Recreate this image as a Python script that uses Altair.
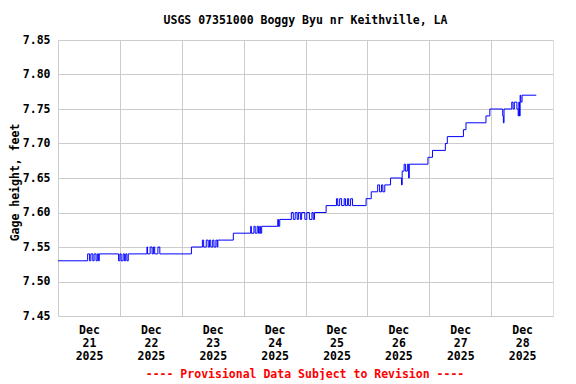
import altair as alt
import pandas as pd

# Change points of the 15-minute gage height record (value holds until next time)
times = [
    "2025-12-21 00:00", "2025-12-21 11:30", "2025-12-21 12:15", "2025-12-21 12:45", "2025-12-21 13:30",
    "2025-12-21 14:00", "2025-12-21 14:45", "2025-12-21 15:15", "2025-12-21 15:45", "2025-12-21 16:00",
    "2025-12-21 23:30", "2025-12-22 00:00", "2025-12-22 00:30", "2025-12-22 01:15", "2025-12-22 01:45",
    "2025-12-22 02:15", "2025-12-22 02:45", "2025-12-22 03:15",
    "2025-12-22 10:30", "2025-12-22 10:45", "2025-12-22 11:45", "2025-12-22 12:30", "2025-12-22 13:00",
    "2025-12-22 13:30", "2025-12-22 14:45", "2025-12-22 15:30",
    "2025-12-23 03:45", "2025-12-23 08:00", "2025-12-23 08:30", "2025-12-23 09:30", "2025-12-23 10:15",
    "2025-12-23 10:45", "2025-12-23 11:15", "2025-12-23 12:00", "2025-12-23 12:30", "2025-12-23 13:15",
    "2025-12-23 13:45", "2025-12-23 14:00",
    "2025-12-23 20:00", "2025-12-24 02:45", "2025-12-24 03:00", "2025-12-24 04:00", "2025-12-24 04:30",
    "2025-12-24 05:15", "2025-12-24 05:45", "2025-12-24 06:15", "2025-12-24 06:30", "2025-12-24 07:00",
    "2025-12-24 13:15", "2025-12-24 13:30", "2025-12-24 14:00",
    "2025-12-24 18:30", "2025-12-24 19:15", "2025-12-24 20:00", "2025-12-24 20:45", "2025-12-24 21:15",
    "2025-12-24 22:00", "2025-12-24 22:30", "2025-12-24 23:45", "2025-12-25 00:30", "2025-12-25 01:30",
    "2025-12-25 02:30", "2025-12-25 03:00", "2025-12-25 03:30",
    "2025-12-25 08:00", "2025-12-25 12:00", "2025-12-25 12:30", "2025-12-25 13:15", "2025-12-25 14:00",
    "2025-12-25 15:00", "2025-12-25 15:30", "2025-12-25 16:15", "2025-12-25 16:45", "2025-12-25 17:30",
    "2025-12-25 18:15",
    "2025-12-25 23:30", "2025-12-26 01:30", "2025-12-26 04:00", "2025-12-26 04:45", "2025-12-26 05:30",
    "2025-12-26 06:00", "2025-12-26 06:45", "2025-12-26 09:00",
    "2025-12-26 13:15", "2025-12-26 13:30", "2025-12-26 14:15", "2025-12-26 14:45", "2025-12-26 15:30",
    "2025-12-26 16:00", "2025-12-26 16:15",
    "2025-12-26 23:30", "2025-12-27 01:15", "2025-12-27 06:15", "2025-12-27 07:00", "2025-12-27 13:15",
    "2025-12-27 14:15", "2025-12-27 22:00", "2025-12-27 23:30",
    "2025-12-28 04:30", "2025-12-28 04:45", "2025-12-28 05:00",
    "2025-12-28 08:00", "2025-12-28 08:30", "2025-12-28 09:00", "2025-12-28 10:00", "2025-12-28 10:30",
    "2025-12-28 10:45", "2025-12-28 11:00", "2025-12-28 11:15", "2025-12-28 11:30", "2025-12-28 12:00",
    "2025-12-28 17:30",
]
heights = [
    7.53, 7.54, 7.53, 7.54, 7.53,
    7.54, 7.53, 7.54, 7.53, 7.54,
    7.53, 7.54, 7.53, 7.54, 7.53,
    7.54, 7.53, 7.54,
    7.55, 7.54, 7.55, 7.54, 7.55,
    7.54, 7.55, 7.54,
    7.55, 7.56, 7.55, 7.56, 7.55,
    7.56, 7.55, 7.56, 7.55, 7.56,
    7.55, 7.56,
    7.57, 7.58, 7.57, 7.58, 7.57,
    7.58, 7.57, 7.58, 7.57, 7.58,
    7.59, 7.58, 7.59,
    7.60, 7.59, 7.60, 7.59, 7.60,
    7.59, 7.60, 7.59, 7.60, 7.59,
    7.60, 7.59, 7.60,
    7.61, 7.62, 7.61, 7.62, 7.61,
    7.62, 7.61, 7.62, 7.61, 7.62,
    7.61,
    7.62, 7.63, 7.64, 7.63, 7.64,
    7.63, 7.64, 7.65,
    7.64, 7.66, 7.67, 7.66, 7.67,
    7.65, 7.67,
    7.68, 7.69, 7.70, 7.71, 7.72,
    7.73, 7.74, 7.75,
    7.74, 7.73, 7.75,
    7.76, 7.75, 7.76, 7.75, 7.74,
    7.76, 7.74, 7.77, 7.76, 7.77,
    7.77,
]

y_ticks = [7.45, 7.50, 7.55, 7.60, 7.65, 7.70, 7.75, 7.80, 7.85]
day_ticks = [21, 22, 23, 24, 25, 26, 27, 28]

title_text = "USGS 07351000 Boggy Byu nr Keithville, LA"
y_title = "Gage height, feet"
caption = "---- Provisional Data Subject to Revision ----"

df = pd.DataFrame({"time": [t.replace(" ", "T") + ":00" for t in times], "height": heights})

FONT = "DejaVu Sans Mono"

x_scale = alt.Scale(domain=[alt.DateTime(year=2025, month=12, date=21),
                            alt.DateTime(year=2025, month=12, date=29)])

line = alt.Chart(df).mark_line(interpolate="step-after", color="#0000FF", strokeWidth=1).encode(
    x=alt.X("time:T", scale=x_scale, title=None,
            axis=alt.Axis(values=[alt.DateTime(year=2025, month=12, date=d) for d in day_ticks],
                          labelExpr="[timeFormat(datum.value, '%b'), timeFormat(datum.value, '%d'), timeFormat(datum.value, '%Y')]",
                          labelOffset=31, labelAlign="center", labelPadding=8, labelLineHeight=13,
                          ticks=False, domain=False, grid=True, gridColor="#CCCCCC", gridWidth=1,
                          labelFont=FONT, labelFontSize=11.5, labelFontWeight="bold", labelColor="black",
                          labelFlush=False, labelOverlap=False)),
    y=alt.Y("height:Q", scale=alt.Scale(domain=[7.45, 7.85], nice=False, zero=False),
            axis=alt.Axis(values=y_ticks, format=".2f", title=y_title, ticks=False, domain=False,
                          grid=True, gridColor="#CCCCCC", gridWidth=1, labelPadding=8,
                          labelFont=FONT, labelFontSize=11.5, labelFontWeight="bold", labelColor="black",
                          titleFont=FONT, titleFontSize=11.5, titleFontWeight="bold", titleColor="black",
                          titlePadding=2, titleY=142)),
)

cap = alt.Chart(pd.DataFrame({"t": [caption]})).mark_text(
    font=FONT, fontSize=11.5, fontWeight="bold", color="#FF0000", align="center", baseline="middle"
).encode(text="t:N", x=alt.value(247), y=alt.value(335))

chart = alt.layer(line, cap).properties(
    width=495, height=276,
    title=alt.TitleParams(title_text, font=FONT, fontSize=11.5, fontWeight="bold", color="black",
                          anchor="middle", offset=8),
    padding={"left": 50, "top": 32, "right": 15, "bottom": 64},
    autosize=alt.AutoSizeParams(type="none"),
).configure_view(stroke="black", strokeWidth=1).configure(background="white")

chart.save("out.html", embed_options={"renderer": "svg", "actions": False})
